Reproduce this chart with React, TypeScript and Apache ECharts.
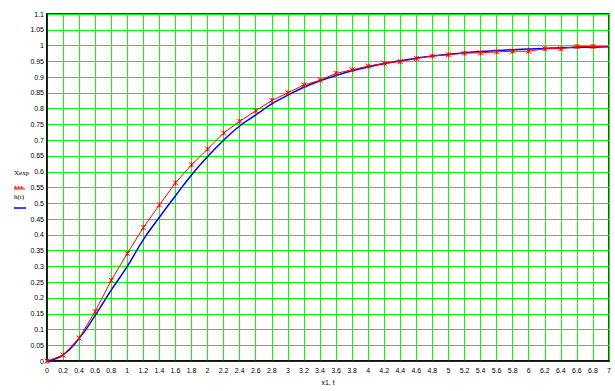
import React, { useEffect, useRef } from "react";
import * as echarts from "echarts";

const tValues = [
  0, 0.2, 0.4, 0.6, 0.8, 1.0, 1.2, 1.4, 1.6, 1.8, 2.0, 2.2, 2.4, 2.6, 2.8, 3.0, 3.2, 3.4,
  3.6, 3.8, 4.0, 4.2, 4.4, 4.6, 4.8, 5.0, 5.2, 5.4, 5.6, 5.8, 6.0, 6.2, 6.4, 6.6, 6.8, 7.0,
];
const xExp = [
  0, 0.019, 0.073, 0.157, 0.256, 0.341, 0.423, 0.495, 0.565, 0.622, 0.672, 0.723, 0.76,
  0.793, 0.826, 0.85, 0.875, 0.89, 0.912, 0.923, 0.935, 0.944, 0.949, 0.959, 0.967, 0.971,
  0.976, 0.977, 0.98, 0.982, 0.982, 0.99, 0.99, 0.997, 0.997, 0.996,
];
const hT = [
  0, 0.02, 0.072, 0.145, 0.225, 0.3, 0.385, 0.456, 0.524, 0.59, 0.648, 0.7, 0.745, 0.78,
  0.815, 0.843, 0.868, 0.888, 0.905, 0.92, 0.932, 0.943, 0.952, 0.96, 0.967, 0.972, 0.977,
  0.981, 0.984, 0.987, 0.989, 0.991, 0.993, 0.994, 0.995, 0.996,
];
const seriesNames = ["Xexp", "h(t)"];
const xAxisTitle = "x1, t";

const crossSymbol = "path://M0,0L10,10M10,0L0,10M5,0L5,10";

export default function App() {
  const ref = useRef<HTMLDivElement>(null);
  useEffect(() => {
    if (!ref.current) return;
    const chart = echarts.init(ref.current, undefined, { renderer: "svg" });
    const fmt = (v: number) => String(Math.round(v * 100) / 100);
    const labelFont = { fontFamily: "Liberation Sans", fontSize: 7, color: "#000" };
    chart.setOption({
      animation: false,
      backgroundColor: "#fff",
      grid: {
        left: 47,
        right: 6,
        top: 14,
        bottom: 25,
        show: true,
        borderColor: "#000",
        borderWidth: 1.5,
      },
      xAxis: {
        type: "value",
        min: 0,
        max: 7,
        interval: 0.2,
        name: xAxisTitle,
        nameLocation: "middle",
        nameGap: 17,
        nameTextStyle: { ...labelFont },
        axisLine: { show: true, lineStyle: { color: "#000", width: 1.5 } },
        axisTick: { show: false },
        axisLabel: { ...labelFont, margin: 6, formatter: fmt },
        splitLine: { show: true, lineStyle: { color: "#00ff00", width: 1 } },
      },
      yAxis: {
        type: "value",
        min: 0,
        max: 1.1,
        interval: 0.05,
        axisLine: { show: true, lineStyle: { color: "#000", width: 1.5 } },
        axisTick: { show: false },
        axisLabel: { ...labelFont, margin: 3, formatter: fmt },
        splitLine: { show: true, lineStyle: { color: "#00ff00", width: 1 } },
      },
      graphic: [
        { type: "text", left: 14, top: 169, style: { text: "Xexp", font: "7px 'Liberation Serif'", fill: "#000" } },
        { type: "line", shape: { x1: 14, y1: 189, x2: 25, y2: 189 }, style: { stroke: "#ff0000", lineWidth: 1 } },
        { type: "text", left: 14, top: 184, style: { text: "***", font: "bold 8px 'Liberation Sans'", fill: "#ff0000" } },
        { type: "text", left: 14, top: 193, style: { text: "h(t)", font: "7px 'Liberation Serif'", fill: "#000" } },
        { type: "line", shape: { x1: 14, y1: 208, x2: 26, y2: 208 }, style: { stroke: "#0000ff", lineWidth: 1.5 } },
      ],
      series: [
        {
          name: seriesNames[0],
          type: "line",
          data: tValues.map((t, i) =>
            i === tValues.length - 1 ? { value: [t, xExp[i]], symbol: "none" } : [t, xExp[i]]
          ),
          symbol: crossSymbol,
          symbolSize: 5,
          showSymbol: true,
          lineStyle: { color: "#ff0000", width: 1 },
          itemStyle: { color: "#ff0000", borderColor: "#ff0000", borderWidth: 1 },
          z: 3,
        },
        {
          name: seriesNames[1],
          type: "line",
          data: tValues.map((t, i) => [t, hT[i]]),
          smooth: true,
          symbol: "none",
          lineStyle: { color: "#0000ff", width: 1.5 },
          z: 2,
        },
      ],
    });
    return () => chart.dispose();
  }, []);
  return <div ref={ref} style={{ width: 615, height: 391, position: "absolute", left: 0, top: 0 }} />;
}
